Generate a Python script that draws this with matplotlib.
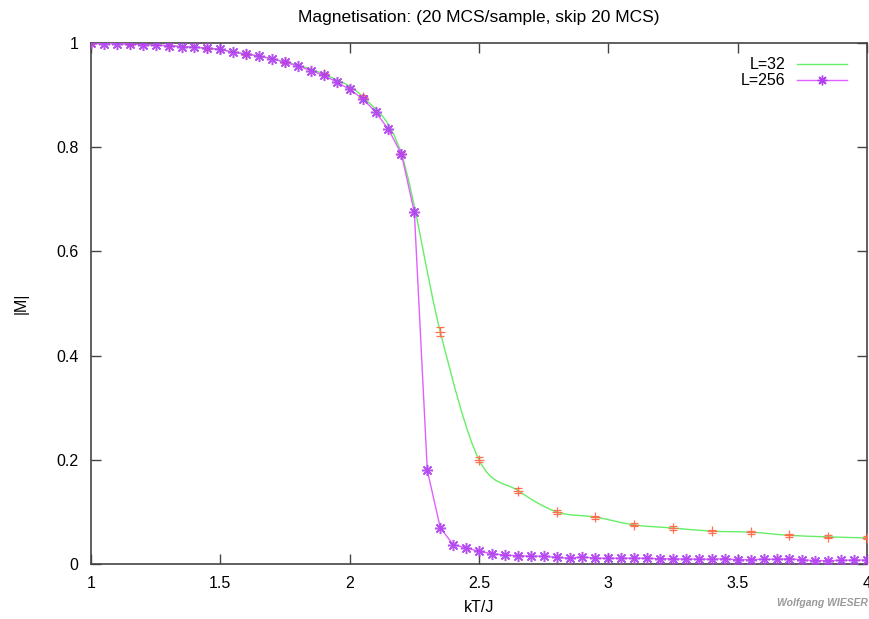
import numpy as np
import matplotlib
matplotlib.use("Agg")
import matplotlib.pyplot as plt
from matplotlib.path import Path
from matplotlib.patches import PathPatch

# L=256: every 0.05 from 1.0 to 4.0
t256 = [1.00, 1.05, 1.10, 1.15, 1.20, 1.25, 1.30, 1.35, 1.40, 1.45,
        1.50, 1.55, 1.60, 1.65, 1.70, 1.75, 1.80, 1.85, 1.90, 1.95,
        2.00, 2.05, 2.10, 2.15, 2.20, 2.25, 2.30, 2.35, 2.40, 2.45,
        2.50, 2.55, 2.60, 2.65, 2.70, 2.75, 2.80, 2.85, 2.90, 2.95,
        3.00, 3.05, 3.10, 3.15, 3.20, 3.25, 3.30, 3.35, 3.40, 3.45,
        3.50, 3.55, 3.60, 3.65, 3.70, 3.75, 3.80, 3.85, 3.90, 3.95,
        4.00]
m256 = [0.9995, 0.999, 0.999, 0.998, 0.997, 0.996, 0.995, 0.993, 0.992, 0.990,
        0.988, 0.982, 0.979, 0.975, 0.970, 0.963, 0.956, 0.947, 0.938, 0.925,
        0.911, 0.893, 0.868, 0.834, 0.787, 0.675, 0.180, 0.070, 0.037, 0.031,
        0.024, 0.020, 0.017, 0.016, 0.015, 0.015, 0.0125, 0.011, 0.0135, 0.011,
        0.011, 0.011, 0.011, 0.011, 0.010, 0.010, 0.0093, 0.0093, 0.0093, 0.010,
        0.008, 0.0085, 0.009, 0.009, 0.010, 0.008, 0.0065, 0.0065, 0.007, 0.0075,
        0.0075]

# L=32: every 0.15 from 1.0 to 4.0
t32 = [1.00, 1.15, 1.30, 1.45, 1.60, 1.75, 1.90, 2.05, 2.20, 2.35,
       2.50, 2.65, 2.80, 2.95, 3.10, 3.25, 3.40, 3.55, 3.70, 3.85, 4.00]
m32 = [0.9995, 0.998, 0.995, 0.990, 0.979, 0.964, 0.940, 0.897, 0.787, 0.446,
       0.200, 0.141, 0.100, 0.090, 0.075, 0.069, 0.063, 0.061, 0.055, 0.052, 0.050]
e32 = [0.001, 0.001, 0.001, 0.001, 0.002, 0.002, 0.002, 0.003, 0.004, 0.008,
       0.005, 0.004, 0.004, 0.003, 0.003, 0.003, 0.003, 0.003, 0.003, 0.003, 0.003]


def smooth_path(xs, ys):
    # Catmull-Rom curve through the points, drawn as cubic Bezier segments
    xs = np.asarray(xs, float)
    ys = np.asarray(ys, float)
    verts = [(xs[0], ys[0])]
    codes = [Path.MOVETO]
    n = len(xs)
    for i in range(n - 1):
        i0 = max(i - 1, 0)
        i3 = min(i + 2, n - 1)
        c1 = (xs[i] + (xs[i + 1] - xs[i0]) / 6, ys[i] + (ys[i + 1] - ys[i0]) / 6)
        c2 = (xs[i + 1] - (xs[i3] - xs[i]) / 6, ys[i + 1] - (ys[i3] - ys[i]) / 6)
        verts += [c1, c2, (xs[i + 1], ys[i + 1])]
        codes += [Path.CURVE4] * 3
    return Path(verts, codes)


plt.rcParams["font.family"] = ["Liberation Sans", "DejaVu Sans"]

fig = plt.figure(figsize=(8.7, 6.19), dpi=100)
ax = fig.add_axes([0.1046, 0.0889, 0.892, 0.8416])

green = "#66ee66"
line256 = "#e060ff"
mark256 = "#b040f0"
fs = 11.5

# L=32 smooth curve and error bars
ax.add_patch(PathPatch(smooth_path(t32, m32), facecolor="none",
                       edgecolor=green, lw=1.0, zorder=2))
ax.errorbar(t32, m32, yerr=e32, fmt="+", color="#ff7050", ms=7, mew=0.9,
            elinewidth=0.9, capsize=3, capthick=0.9, zorder=3)

# L=256 line with asterisk markers
ax.plot(t256, m256, color=line256, lw=1.0, zorder=4)
ax.plot(t256, m256, ls="none", marker=(8, 2, 0), ms=8, mew=1.1,
        color=mark256, alpha=0.9, zorder=5)

# legend handles
h32, = ax.plot([], [], color=green, lw=1.0, label="L=32")
h256, = ax.plot([], [], color=line256, lw=1.0, marker=(8, 2, 0), ms=7,
                mew=1.0, mec=mark256, label="L=256")
ax.legend(handles=[h32, h256], loc="upper right", bbox_to_anchor=(0.9923, 1.0),
          frameon=False, markerfirst=False, fontsize=fs, handlelength=3.1,
          handletextpad=0.75, labelspacing=0.05, borderaxespad=0.5)

ax.set_xlim(1, 4)
ax.set_ylim(0, 1)
ax.set_xticks([1, 1.5, 2, 2.5, 3, 3.5, 4])
ax.set_xticklabels(["1", "1.5", "2", "2.5", "3", "3.5", "4"])
ax.set_yticks([0, 0.2, 0.4, 0.6, 0.8, 1])
ax.set_yticklabels(["0", "0.2", "0.4", "0.6", "0.8", "1"])
ax.tick_params(direction="in", top=True, right=True, length=7,
               width=1.0, color="#444444", labelsize=fs, pad=9)
for s in ax.spines.values():
    s.set_color("#444444")
    s.set_linewidth(1.2)

ax.set_xlabel("kT/J", fontsize=fs, labelpad=6)
ax.set_ylabel("|M|", fontsize=fs, labelpad=20)
ax.set_title("Magnetisation: (20 MCS/sample, skip 20 MCS)", fontsize=12.5, pad=15)

fig.text(0.998, 0.018, "Wolfgang WIESER", ha="right", va="bottom",
         fontsize=7.5, style="italic", weight="bold", color="#999999")

fig.savefig("out.png", dpi=100)
